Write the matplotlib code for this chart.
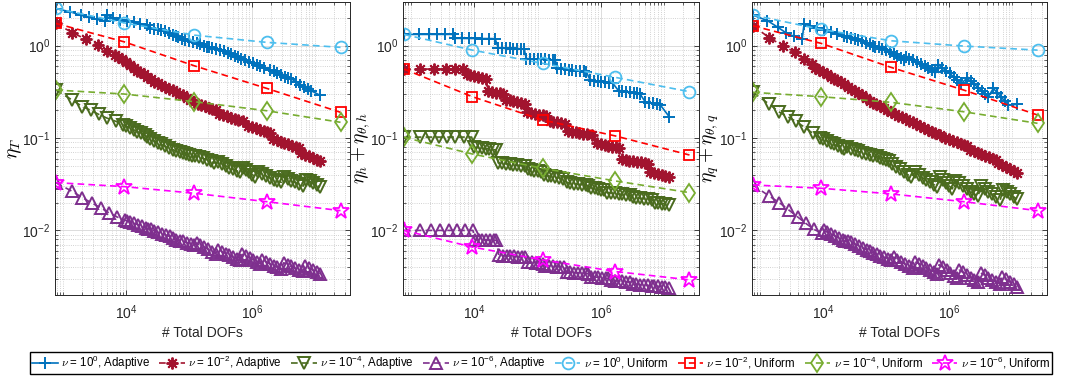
import numpy as np
import matplotlib.pyplot as plt
from matplotlib.ticker import FixedLocator, LogLocator, NullFormatter

plt.rcParams['font.family'] = ['Liberation Sans', 'DejaVu Sans']
plt.rcParams['mathtext.fontset'] = 'cm'

# all numbers below are log10 values (DOFs and estimators)

# adaptive runs: total DOFs per step, one sequence per nu
dofs_a0 = [2.89, 3.12, 3.28, 3.41, 3.54, 3.67,
           3.70, 3.80, 3.91, 4.02, 4.12, 4.23, 4.33,
           4.38, 4.44, 4.50, 4.56, 4.62, 4.68, 4.74, 4.79,
           4.82, 4.88, 4.94, 5.00, 5.06, 5.12, 5.18, 5.24, 5.28,
           5.31, 5.37, 5.43, 5.49, 5.55, 5.61, 5.67, 5.73, 5.77,
           5.83, 5.89, 5.95, 6.01, 6.07, 6.13, 6.19,
           6.28, 6.34, 6.40, 6.46, 6.52, 6.57, 6.62,
           6.70, 6.76, 6.82, 6.88, 6.94,
           7.08]
dofs_a2 = [2.89, 3.15, 3.36, 3.55, 3.70, 3.82,
           3.88, 3.94, 4.00, 4.06, 4.12, 4.18,
           4.22, 4.28, 4.34, 4.40, 4.45,
           4.50, 4.56, 4.62, 4.68, 4.74, 4.80,
           4.84, 4.90, 4.96, 5.02, 5.08, 5.14,
           5.19, 5.25, 5.31, 5.37, 5.43,
           5.48, 5.54, 5.60, 5.66, 5.72, 5.78, 5.86,
           5.94, 6.00, 6.06, 6.12, 6.18, 6.24, 6.29,
           6.33, 6.39, 6.45, 6.51, 6.57, 6.63, 6.69, 6.74,
           6.78, 6.84, 6.90, 6.96, 7.02, 7.07]
dofs_a4 = [2.89, 3.15, 3.31, 3.44, 3.57, 3.70, 3.84, 3.96,
           4.00, 4.06, 4.12, 4.18, 4.24, 4.30, 4.34,
           4.38, 4.44, 4.50, 4.56, 4.62, 4.68, 4.74, 4.80,
           4.85, 4.90, 4.95, 5.00, 5.05,
           5.10, 5.16, 5.22, 5.28, 5.34, 5.40,
           5.46, 5.52, 5.58, 5.64, 5.70, 5.76, 5.80,
           5.85, 5.90, 5.95, 6.00, 6.05,
           6.10, 6.16, 6.22, 6.28, 6.34, 6.40, 6.46,
           6.50, 6.56, 6.62, 6.68, 6.74, 6.81,
           6.85, 6.91, 6.97, 7.02, 7.07]
dofs_a6 = [2.89, 3.14, 3.31, 3.46, 3.60, 3.73, 3.86, 3.98,
           4.01, 4.07, 4.13, 4.19, 4.25, 4.31, 4.35,
           4.39, 4.45, 4.51, 4.57, 4.63, 4.69, 4.75, 4.80,
           4.85, 4.91, 4.97, 5.03, 5.08,
           5.12, 5.18, 5.24, 5.30, 5.36, 5.42,
           5.46, 5.52, 5.58, 5.64, 5.70, 5.76, 5.80,
           5.84, 5.90, 5.96, 6.02, 6.08, 6.12,
           6.16, 6.22, 6.28, 6.34, 6.40, 6.46,
           6.50, 6.56, 6.62, 6.68, 6.74, 6.80,
           6.84, 6.90, 6.96, 7.02, 7.07]

# eta_T
etaT_a0 = [0.40, 0.365, 0.33, 0.306, 0.283, 0.265,
           0.33, 0.30, 0.281, 0.267, 0.253, 0.238, 0.22,
           0.19, 0.183, 0.177, 0.168, 0.155, 0.14, 0.12, 0.10,
           0.09, 0.075, 0.06, 0.045, 0.035, 0.025, 0.012, 0.0, -0.012,
           -0.018, -0.026, -0.038, -0.05, -0.062, -0.078, -0.095, -0.11, -0.12,
           -0.14, -0.158, -0.173, -0.19, -0.207, -0.222, -0.238,
           -0.26, -0.275, -0.295, -0.317, -0.337, -0.347, -0.36,
           -0.395, -0.425, -0.445, -0.465, -0.49,
           -0.54]
etaT_a2 = [0.24, 0.14, 0.07, 0.005, -0.055, -0.10,
           -0.12, -0.15, -0.18, -0.21, -0.24, -0.27,
           -0.285, -0.31, -0.34, -0.365, -0.39,
           -0.41, -0.43, -0.45, -0.47, -0.485, -0.50,
           -0.52, -0.54, -0.565, -0.59, -0.61, -0.63,
           -0.64, -0.655, -0.67, -0.685, -0.70,
           -0.74, -0.75, -0.765, -0.78, -0.795, -0.81, -0.82,
           -0.87, -0.88, -0.895, -0.91, -0.925, -0.94, -0.95,
           -1.01, -1.025, -1.04, -1.055, -1.07, -1.085, -1.10, -1.11,
           -1.16, -1.18, -1.20, -1.22, -1.235, -1.25]
etaT_a4 = [-0.481, -0.59, -0.66, -0.70, -0.745, -0.785, -0.82, -0.855,
           -0.87, -0.89, -0.91, -0.93, -0.95, -0.97, -0.99,
           -1.01, -1.03, -1.05, -1.07, -1.09, -1.11, -1.125, -1.14,
           -1.15, -1.162, -1.175, -1.187, -1.20,
           -1.19, -1.205, -1.22, -1.235, -1.25, -1.27,
           -1.26, -1.28, -1.30, -1.32, -1.34, -1.355, -1.37,
           -1.32, -1.345, -1.37, -1.395, -1.42,
           -1.37, -1.39, -1.41, -1.43, -1.45, -1.465, -1.48,
           -1.42, -1.44, -1.46, -1.48, -1.50, -1.52,
           -1.45, -1.47, -1.49, -1.51, -1.53]
etaT_a6 = [-1.483, -1.575, -1.645, -1.705, -1.755, -1.81, -1.855, -1.89,
           -1.895, -1.91, -1.925, -1.94, -1.955, -1.97, -1.98,
           -1.99, -2.005, -2.02, -2.035, -2.05, -2.065, -2.085, -2.10,
           -2.11, -2.12, -2.135, -2.15, -2.16,
           -2.14, -2.16, -2.18, -2.205, -2.23, -2.25,
           -2.21, -2.23, -2.25, -2.27, -2.29, -2.305, -2.32,
           -2.26, -2.28, -2.30, -2.32, -2.34, -2.36,
           -2.32, -2.34, -2.36, -2.38, -2.40, -2.42,
           -2.35, -2.37, -2.39, -2.41, -2.425, -2.44,
           -2.39, -2.41, -2.43, -2.45, -2.47]

# eta_h + eta_theta,h
etah_a0 = [0.121, 0.121, 0.121, 0.121, 0.121, 0.121,
           0.078, 0.078, 0.077, 0.077, 0.076, 0.076, 0.075,
           -0.028, -0.029, -0.030, -0.031, -0.032, -0.033, -0.034, -0.035,
           -0.140, -0.142, -0.144, -0.146, -0.148, -0.150, -0.152, -0.154, -0.156,
           -0.246, -0.250, -0.255, -0.260, -0.265, -0.270, -0.274, -0.278, -0.282,
           -0.373, -0.379, -0.385, -0.391, -0.397, -0.403, -0.409,
           -0.489, -0.495, -0.501, -0.507, -0.513, -0.518, -0.524,
           -0.608, -0.617, -0.626, -0.635, -0.643,
           -0.770]
etah_a2 = [-0.254, -0.254, -0.254, -0.254, -0.254, -0.254,
           -0.308, -0.318, -0.329, -0.340, -0.351, -0.362,
           -0.490, -0.499, -0.508, -0.517, -0.525,
           -0.584, -0.592, -0.601, -0.610, -0.619, -0.627,
           -0.724, -0.732, -0.739, -0.747, -0.755, -0.762,
           -0.816, -0.824, -0.832, -0.841, -0.849,
           -0.924, -0.931, -0.938, -0.946, -0.953, -0.960, -0.968,
           -1.059, -1.067, -1.075, -1.083, -1.092, -1.100, -1.108,
           -1.232, -1.238, -1.245, -1.251, -1.257, -1.264, -1.270, -1.276,
           -1.373, -1.383, -1.393, -1.403, -1.413, -1.422]
etah_a4 = [-0.993, -0.99, -0.99, -0.99, -0.99, -0.99, -0.99, -0.99,
           -1.100, -1.105, -1.110, -1.115, -1.120, -1.125, -1.130,
           -1.270, -1.275, -1.280, -1.285, -1.290, -1.295, -1.300, -1.305,
           -1.340, -1.347, -1.355, -1.362, -1.370,
           -1.400, -1.408, -1.416, -1.424, -1.432, -1.440,
           -1.480, -1.487, -1.493, -1.500, -1.507, -1.513, -1.520,
           -1.540, -1.546, -1.552, -1.558, -1.565,
           -1.590, -1.595, -1.600, -1.605, -1.610, -1.615, -1.620,
           -1.640, -1.646, -1.652, -1.658, -1.664, -1.670,
           -1.700, -1.705, -1.710, -1.715, -1.720]
etah_a6 = [-2.0, -2.0, -2.0, -2.0, -2.0, -2.0, -2.0, -2.0,
           -2.100, -2.101, -2.102, -2.103, -2.104, -2.105, -2.106,
           -2.270, -2.273, -2.276, -2.279, -2.282, -2.285, -2.288, -2.290,
           -2.340, -2.345, -2.350, -2.355, -2.360,
           -2.380, -2.384, -2.388, -2.392, -2.396, -2.400,
           -2.450, -2.453, -2.456, -2.460, -2.463, -2.466, -2.470,
           -2.500, -2.504, -2.508, -2.512, -2.516, -2.520,
           -2.540, -2.544, -2.548, -2.552, -2.556, -2.560,
           -2.580, -2.584, -2.588, -2.592, -2.596, -2.600,
           -2.600, -2.605, -2.610, -2.615, -2.620]

# eta_q + eta_theta,q
etaq_a0 = [0.33, 0.27, 0.20, 0.14, 0.10, 0.07,
           0.232, 0.21, 0.185, 0.165, 0.145, 0.125, 0.10,
           0.095, 0.08, 0.07, 0.06, 0.045, 0.03, 0.015, 0.0,
           -0.01, -0.02, -0.035, -0.05, -0.07, -0.09, -0.11, -0.135, -0.155,
           -0.12, -0.14, -0.16, -0.18, -0.20, -0.22, -0.245, -0.265, -0.285,
           -0.21, -0.24, -0.27, -0.30, -0.34, -0.375, -0.41,
           -0.355, -0.385, -0.42, -0.455, -0.49, -0.52, -0.553,
           -0.463, -0.51, -0.555, -0.60, -0.643,
           -0.636]
etaq_a2 = [0.214, 0.085, 0.0, -0.07, -0.15, -0.20,
           -0.24, -0.26, -0.285, -0.31, -0.335, -0.36,
           -0.37, -0.395, -0.42, -0.445, -0.47,
           -0.49, -0.515, -0.54, -0.565, -0.595, -0.62,
           -0.63, -0.65, -0.675, -0.695, -0.72, -0.74,
           -0.76, -0.777, -0.795, -0.812, -0.83,
           -0.85, -0.87, -0.89, -0.91, -0.93, -0.95, -0.97,
           -1.0, -1.015, -1.03, -1.045, -1.06, -1.075, -1.09,
           -1.13, -1.145, -1.16, -1.175, -1.19, -1.21, -1.225, -1.24,
           -1.27, -1.29, -1.315, -1.335, -1.36, -1.38]
etaq_a4 = [-0.506, -0.635, -0.72, -0.77, -0.82, -0.88, -0.95, -1.0,
           -1.01, -1.03, -1.05, -1.07, -1.09, -1.105, -1.12,
           -1.10, -1.115, -1.13, -1.145, -1.16, -1.17, -1.18, -1.19,
           -1.20, -1.215, -1.225, -1.24, -1.25,
           -1.28, -1.31, -1.34, -1.37, -1.395, -1.42,
           -1.37, -1.40, -1.43, -1.455, -1.48, -1.505, -1.53,
           -1.42, -1.455, -1.49, -1.52, -1.55,
           -1.46, -1.49, -1.52, -1.55, -1.58, -1.605, -1.63,
           -1.52, -1.55, -1.58, -1.61, -1.64, -1.67,
           -1.56, -1.585, -1.61, -1.635, -1.66]
etaq_a6 = [-1.508, -1.625, -1.70, -1.78, -1.855, -1.925, -1.99, -2.03,
           -2.0, -2.02, -2.04, -2.06, -2.085, -2.105, -2.12,
           -2.11, -2.13, -2.15, -2.17, -2.19, -2.21, -2.225, -2.24,
           -2.26, -2.275, -2.29, -2.305, -2.32,
           -2.29, -2.315, -2.34, -2.365, -2.39, -2.41,
           -2.34, -2.36, -2.385, -2.41, -2.43, -2.45, -2.47,
           -2.37, -2.40, -2.43, -2.46, -2.49, -2.52,
           -2.43, -2.455, -2.48, -2.51, -2.535, -2.56,
           -2.46, -2.485, -2.51, -2.535, -2.56, -2.58,
           -2.50, -2.53, -2.56, -2.585, -2.61]

# uniform refinement
dofs_u = [2.89, 3.97, 5.08, 6.23, 7.40]
etaT_u = [[0.402, 0.246, 0.113, 0.035, -0.019],
          [0.24, 0.041, -0.218, -0.463, -0.722],
          [-0.481, -0.524, -0.607, -0.705, -0.83],
          [-1.483, -1.526, -1.598, -1.689, -1.786]]
etah_u = [[0.121, -0.049, -0.192, -0.344, -0.499],
          [-0.254, -0.553, -0.805, -0.978, -1.184],
          [-0.993, -1.173, -1.328, -1.465, -1.591],
          [-2.0, -2.18, -2.319, -2.445, -2.535]]
etaq_u = [[0.33, 0.175, 0.052, -0.005, -0.049],
          [0.214, 0.024, -0.236, -0.481, -0.751],
          [-0.506, -0.553, -0.614, -0.716, -0.841],
          [-1.508, -1.544, -1.605, -1.689, -1.786]]

nu_exps = ['0', '-2', '-4', '-6']
dofs_a = [dofs_a0, dofs_a2, dofs_a4, dofs_a6]

panels = [
    (r'$\eta_T$', [etaT_a0, etaT_a2, etaT_a4, etaT_a6], etaT_u),
    (r'$\eta_h + \eta_{\theta,h}$', [etah_a0, etah_a2, etah_a4, etah_a6], etah_u),
    (r'$\eta_q + \eta_{\theta,q}$', [etaq_a0, etaq_a2, etaq_a4, etaq_a6], etaq_u),
]

dash = (0, (4, 2.5))
adaptive_styles = [
    dict(color='#0072BD', marker='+', ls='-', ms=9, mew=1.4),
    dict(color='#A2142F', marker=(8, 2, 0), ls=dash, ms=8.5, mew=1.4),
    dict(color='#4A6B1E', marker='v', ls=dash, ms=8, mew=1.4, mfc='none'),
    dict(color='#7E2F8E', marker='^', ls=dash, ms=8, mew=1.4, mfc='none'),
]
uniform_styles = [
    dict(color='#4DBEEE', marker='o', ls=dash, ms=8.5, mew=1.3, mfc='none'),
    dict(color='#FF0000', marker='s', ls=dash, ms=6.5, mew=1.3, mfc='none'),
    dict(color='#77AC30', marker='d', ls=dash, ms=9.5, mew=1.3, mfc='none'),
    dict(color='#FF00FF', marker='*', ls=dash, ms=12, mew=1.3, mfc='none'),
]

fig = plt.figure(figsize=(10.88, 3.85), dpi=100)
W, H = 1088, 385
boxes = [(55, 350), (403, 699), (752, 1047)]
ax_top, ax_bot = 1.5, 295

handles = []
labels = []
for k, ((x0, x1), (ylab, adapt, unif)) in enumerate(zip(boxes, panels)):
    ax = fig.add_axes([x0 / W, 1 - ax_bot / H, (x1 - x0) / W, (ax_bot - ax_top) / H])
    for i in range(4):
        h, = ax.plot(10.0 ** np.array(dofs_a[i]), 10.0 ** np.array(adapt[i]),
                     lw=1.2, **adaptive_styles[i])
        if k == 0:
            handles.append(h)
            labels.append(r'$\nu$ = $\mathdefault{10^{%s}}$, Adaptive' % nu_exps[i])
    for i in range(4):
        h, = ax.plot(10.0 ** np.array(dofs_u), 10.0 ** np.array(unif[i]),
                     lw=1.2, **uniform_styles[i])
        if k == 0:
            handles.append(h)
            labels.append(r'$\nu$ = $\mathdefault{10^{%s}}$, Uniform' % nu_exps[i])

    ax.set_xscale('log')
    ax.set_yscale('log')
    ax.set_xlim(750, 3.55e7)
    ax.set_ylim(2e-3, 3.0)
    ax.xaxis.set_major_locator(FixedLocator([1e4, 1e6]))
    ax.xaxis.set_minor_locator(LogLocator(base=10, subs=np.arange(1, 10)))
    ax.xaxis.set_minor_formatter(NullFormatter())
    ax.yaxis.set_major_locator(FixedLocator([1e-2, 1e-1, 1e0]))
    ax.yaxis.set_minor_locator(LogLocator(base=10, subs=np.arange(2, 10)))
    ax.yaxis.set_minor_formatter(NullFormatter())

    ax.set_axisbelow(True)
    ax.grid(True, which='major', color='#dcdcdc', lw=0.7)
    ax.grid(True, which='minor', color='#c4c4c4', ls=':', lw=0.6)
    ax.tick_params(which='both', direction='in', top=True, right=True,
                   colors='#262626', labelsize=10)
    ax.tick_params(axis='x', which='major', pad=6)
    ax.tick_params(which='major', length=3.5, width=0.6)
    ax.tick_params(which='minor', length=2, width=0.5)
    for sp in ax.spines.values():
        sp.set_color('#262626')
        sp.set_linewidth(0.7)

    ax.set_xlabel('# Total DOFs', fontsize=10, color='#262626', labelpad=3)
    ax.set_ylabel(ylab, fontsize=14)
    ax.yaxis.set_label_coords(-31.0 / (x1 - x0), 0.5)

fig.legend(handles, labels, loc='center', bbox_to_anchor=(541 / W, 1 - 363 / H),
           ncol=8, fontsize=8.3, frameon=True, fancybox=False, edgecolor='black',
           framealpha=1, handlelength=2.2, handletextpad=0.3, columnspacing=0.8,
           borderpad=0.2)

fig.savefig('out.png', dpi=100)
